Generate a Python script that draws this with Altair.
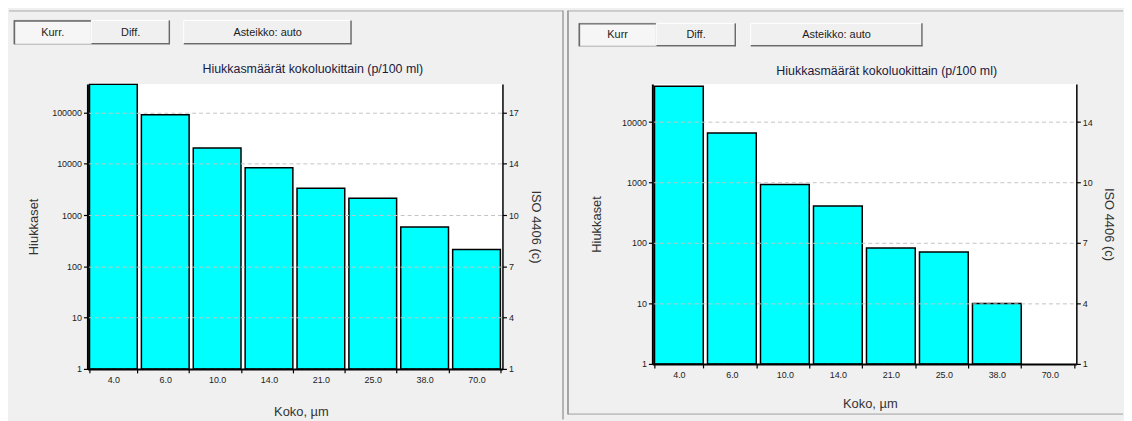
import altair as alt
import pandas as pd

# ---------------- data ----------------
sizes = ["4.0", "6.0", "10.0", "14.0", "21.0", "25.0", "38.0", "70.0"]
left_counts = [355000, 91000, 20400, 8400, 3340, 2140, 585, 214]
right_counts = [39000, 6600, 930, 410, 83, 71, 10, None]
left_ticks = [1, 10, 100, 1000, 10000, 100000]
right_ticks = [1, 10, 100, 1000, 10000]
iso_codes = ["1", "4", "7", "10", "14", "17"]
left_buttons = ["Kurr.", "Diff.", "Asteikko: auto"]
right_buttons = ["Kurr", "Diff.", "Asteikko: auto"]
chart_title = "Hiukkasmäärät kokoluokittain (p/100 ml)"
y_title = "Hiukkaset"
iso_title = "ISO 4406 (c)"
x_title = "Koko, µm"

FONT = "Liberation Sans"
TXT = "#1c1c1c"
BG = "#f0f0f0"


def one():
    return alt.Data(values=[{"k": 0}])


def rect(x0, x1, y0, y1, fill, stroke=None, sw=1.0):
    kw = dict(fill=fill, strokeWidth=sw if stroke else 0)
    if stroke:
        kw["stroke"] = stroke
    return alt.Chart(one()).mark_rect(**kw).encode(
        x=alt.value(x0), x2=alt.value(x1), y=alt.value(y0), y2=alt.value(y1))


def hrule(x0, x1, y, color, sw=1.0):
    return alt.Chart(one()).mark_rule(color=color, strokeWidth=sw).encode(
        x=alt.value(x0), x2=alt.value(x1), y=alt.value(y))


def vrule(x, y0, y1, color, sw=1.0):
    return alt.Chart(one()).mark_rule(color=color, strokeWidth=sw).encode(
        x=alt.value(x), y=alt.value(y0), y2=alt.value(y1))


def label(text, x, y, size=11, color=TXT):
    return alt.Chart(one()).mark_text(
        text=text, font=FONT, fontSize=size, color=color, align="center", baseline="middle"
    ).encode(x=alt.value(x), y=alt.value(y))


def button(x0, x1, y0, y1, text, pressed):
    layers = []
    if pressed:
        layers.append(rect(x0, x1, y0, y1, "#f6f6f6", "#b0b0b0"))
        layers.append(hrule(x0, x1, y0 + 0.5, "#6a6a6a", 1.5))
        layers.append(vrule(x0 + 0.5, y0, y1, "#6a6a6a", 1.5))
    else:
        layers.append(rect(x0, x1, y0, y1, "#f0f0f0", "#ffffff"))
        layers.append(hrule(x0, x1, y1 - 0.5, "#6a6a6a", 1.5))
        layers.append(vrule(x1 - 0.5, y0, y1, "#6a6a6a", 1.5))
    layers.append(label(text, (x0 + x1) / 2, (y0 + y1) / 2 + 0.5))
    return layers


def iso_expr(ticks):
    parts = []
    for v, c in zip(ticks, iso_codes):
        parts.append(f"datum.value == {v} ? '{c}'")
    return " : ".join(parts) + " : ''"


def panel(counts, ticks, ymax, ox, oy, width, height, panel_box, btn_labels, btn_boxes,
          title_abs, ytitle_abs_x, iso_abs_x, xtitle_abs, border_layers):
    df = pd.DataFrame({"size": sizes, "count": counts}).dropna()
    px0, px1, py0, py1 = panel_box
    layers = [rect(px0 - ox, px1 - ox, py0 - oy, py1 - oy, BG)]
    layers += border_layers
    for i, (lab, box) in enumerate(zip(btn_labels, btn_boxes)):
        bx0, bx1, by0, by1 = box
        layers += button(bx0 - ox, bx1 - ox, by0 - oy, by1 - oy, lab, i == 0)
    layers.append(label(chart_title, title_abs[0] - ox, title_abs[1] - oy, 12.5, "#1a1a40"))
    layers.append(rect(0, width, 0, height, "#ffffff"))

    xscale = alt.Scale(domain=sizes, paddingInner=0.08, paddingOuter=0.04)
    yscale = alt.Scale(type="log", domain=[1, ymax], nice=False)
    xaxis = alt.Axis(
        title=x_title, labelAngle=0, tickBand="extent", domainColor="#000", domainWidth=2,
        tickColor="#000", tickSize=4, tickWidth=1.2, labelFont=FONT, labelFontSize=9,
        labelColor=TXT, labelPadding=3, titleFont=FONT, titleFontSize=13,
        titleFontWeight="normal", titleColor="#333", titleX=xtitle_abs[0] - ox,
        titleY=xtitle_abs[1] - (oy + height), titleBaseline="middle", titleAlign="center",
        grid=False, zindex=1)
    yaxis = alt.Axis(
        title=y_title, values=ticks, format="d", domainColor="#000", domainWidth=2,
        tickColor="#000", tickSize=4, tickWidth=1.2, labelFont=FONT, labelFontSize=9,
        labelColor=TXT, labelPadding=2, grid=True, gridColor="#c4c4c4", gridDash=[4, 3],
        gridWidth=1, titleFont=FONT, titleFontSize=13, titleFontWeight="normal",
        titleColor="#333", titleX=ytitle_abs_x - ox, titleY=height / 2,
        titleBaseline="middle", titleAlign="center", zindex=1)
    isoaxis = alt.Axis(
        orient="right", title=iso_title, values=ticks, labelExpr=iso_expr(ticks),
        domainColor="#000", domainWidth=1.5, tickColor="#000", tickSize=4, tickWidth=1.2,
        labelFont=FONT, labelFontSize=9, labelColor=TXT, labelPadding=2, grid=False,
        titleFont=FONT, titleFontSize=13, titleFontWeight="normal", titleColor="#333",
        titleX=iso_abs_x - (ox + width), titleY=height / 2, titleAngle=90,
        titleBaseline="middle", titleAlign="center", zindex=1)

    bars = alt.Chart(df).mark_bar(color="#00ffff", stroke="#000000", strokeWidth=1.5).encode(
        x=alt.X("size:N", sort=sizes, scale=xscale, axis=xaxis),
        y=alt.Y("count:Q", scale=yscale, axis=yaxis),
        y2=alt.datum(1),
    )
    iso = alt.Chart(df).mark_bar(opacity=0).encode(
        x=alt.X("size:N", sort=sizes, scale=xscale, axis=xaxis),
        y=alt.Y("count:Q", scale=yscale, axis=isoaxis),
        y2=alt.datum(1),
    )
    layers += [bars, iso]
    return alt.layer(*layers).resolve_scale(y="independent").properties(
        width=width, height=height)


# left panel (absolute page coordinates)
LOX, LOY, LW, LH = 87, 83, 418, 287
left_border = [
    hrule(8 - LOX, 566 - LOX, 9.5 - LOY, "#a8a8a8"),
    vrule(566 - LOX, 9 - LOY, 421 - LOY, "#a0a0a0", 1.5),
]
left = panel(left_counts, left_ticks, 362000, LOX, LOY, LW, LH, (8, 567, 8, 420),
             left_buttons, [(13, 91, 19, 43), (91, 170, 19, 43), (184, 353, 19, 43)],
             title_abs=(314, 68), ytitle_abs_x=33, iso_abs_x=538, xtitle_abs=(302, 413),
             border_layers=left_border)

# right panel
ROX, ROY, RW, RH = 656, 83, 427, 282
right_border = [
    vrule(571 - ROX, 9 - ROY, 416 - ROY, "#8a8a8a", 1.5),
    hrule(571 - ROX, 1130 - ROX, 9.5 - ROY, "#a8a8a8"),
    hrule(571 - ROX, 1130 - ROX, 415.5 - ROY, "#a0a0a0"),
]
right = panel(right_counts, right_ticks, 42700, ROX, ROY, RW, RH, (567, 1131, 8, 420),
              right_buttons, [(582, 660, 22, 45), (660, 740, 22, 45), (755, 928, 22, 45)],
              title_abs=(892, 70), ytitle_abs_x=600, iso_abs_x=1115, xtitle_abs=(875, 405),
              border_layers=right_border)

chart = alt.hconcat(left, right, spacing=0).properties(
    padding=0, background=BG
).configure_view(stroke=None, fill=None).configure_concat(spacing=0)

chart.save("out.html", embed_options={"renderer": "svg", "actions": False})
